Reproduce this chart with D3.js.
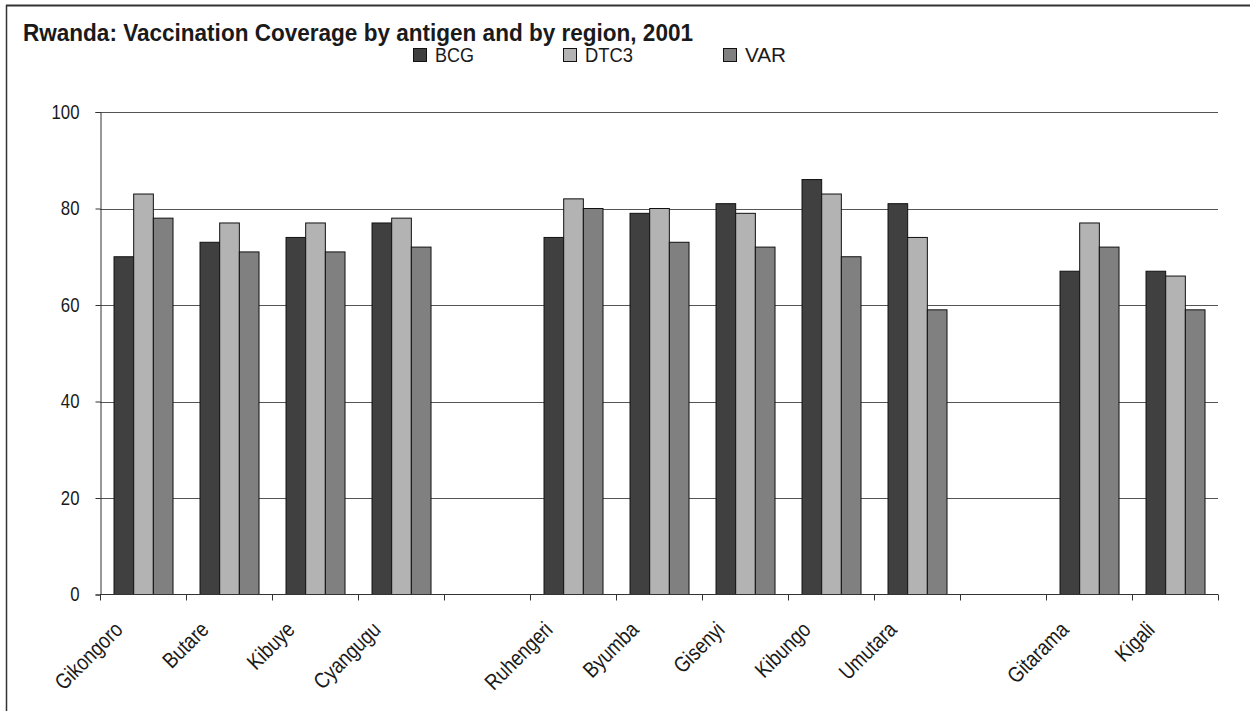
<!DOCTYPE html>
<html>
<head>
<meta charset="utf-8">
<script src="https://cdn.jsdelivr.net/npm/d3@7"></script>
<style>
  html, body { margin: 0; padding: 0; background: #fff; }
  svg { display: block; }
  text { font-family: "Liberation Sans", Arial, sans-serif; fill: #1a1a1a; }
</style>
</head>
<body>
<svg id="chart" width="1250" height="711"></svg>
<script>
// Regions in display order; empty strings are spacer slots between groups
const regions = ["Gikongoro", "Butare", "Kibuye", "Cyangugu", "",
                 "Ruhengeri", "Byumba", "Gisenyi", "Kibungo", "Umutara", "",
                 "Gitarama", "Kigali"];
const series = ["BCG", "DTC3", "VAR"];
const bcg  = [70, 73, 74, 77, null, 74, 79, 81, 86, 81, null, 67, 67];
const dtc3 = [83, 77, 77, 78, null, 82, 80, 79, 83, 74, null, 77, 66];
const varv = [78, 71, 71, 72, null, 80, 73, 72, 70, 59, null, 72, 59];
const yTicks = [0, 20, 40, 60, 80, 100];
const colors = ["#404040", "#b3b3b3", "#808080"];

const seriesValues = [bcg, dtc3, varv];
const svg = d3.select("#chart");
const NARROW = 0.84; // horizontal squeeze giving a narrow sans face

const plot = { left: 100, right: 1218, top: 112, bottom: 594.5 };

const x0 = d3.scaleBand()
  .domain(d3.range(regions.length))
  .range([plot.left, plot.right])
  .padding(0);
const bw = x0.bandwidth();
const x1 = d3.scaleBand()
  .domain(series)
  .range([bw * 0.163, bw * 0.849])
  .padding(0);
const y = d3.scaleLinear().domain([0, 100]).range([plot.bottom, plot.top]);

// Outer frame (top and left edges)
svg.append("line").attr("x1", 6).attr("x2", 1250).attr("y1", 5.5).attr("y2", 5.5)
  .attr("stroke", "#333").attr("stroke-width", 2);
svg.append("line").attr("x1", 6.5).attr("x2", 6.5).attr("y1", 5).attr("y2", 711)
  .attr("stroke", "#333").attr("stroke-width", 1.5);

// Title
svg.append("text")
  .attr("x", 23).attr("y", 41)
  .attr("font-size", 24).attr("font-weight", "bold")
  .attr("textLength", 670).attr("lengthAdjust", "spacingAndGlyphs")
  .text("Rwanda: Vaccination Coverage by antigen and by region, 2001");

// Legend
const legendX = [413, 563, 723];
const legendW = [39, 48, 41];
const lg = svg.append("g");
series.forEach((s, i) => {
  lg.append("rect").attr("x", legendX[i] + 0.5).attr("y", 48.5)
    .attr("width", 13).attr("height", 13)
    .attr("fill", colors[i]).attr("stroke", "#111").attr("stroke-width", 1);
  lg.append("text").attr("x", legendX[i] + 22).attr("y", 62)
    .attr("font-size", 20)
    .attr("textLength", legendW[i]).attr("lengthAdjust", "spacingAndGlyphs")
    .text(s);
});

// Horizontal gridlines
svg.append("g")
  .selectAll("line")
  .data(yTicks.filter(d => d > 0))
  .join("line")
  .attr("x1", plot.left).attr("x2", plot.right)
  .attr("y1", d => Math.round(y(d)) + 0.5).attr("y2", d => Math.round(y(d)) + 0.5)
  .attr("stroke", "#555").attr("stroke-width", 1);

// Bars
const groups = svg.append("g")
  .selectAll("g")
  .data(regions.map((r, i) => i))
  .join("g")
  .attr("transform", i => `translate(${x0(i)},0)`);

groups.selectAll("rect")
  .data(i => series.map((s, k) => ({ s, k, v: seriesValues[k][i] })).filter(d => d.v != null))
  .join("rect")
  .attr("x", d => x1(d.s))
  .attr("y", d => y(d.v))
  .attr("width", x1.bandwidth())
  .attr("height", d => y(0) - y(d.v))
  .attr("fill", d => colors[d.k])
  .attr("stroke", "#111")
  .attr("stroke-width", 1);

// Y axis
const yAxis = d3.axisLeft(y).tickValues(yTicks).tickSize(5).tickPadding(0).tickFormat(d3.format("d"));
const gy = svg.append("g").attr("transform", `translate(${plot.left + 0.5},0)`).call(yAxis);
gy.select(".domain").attr("stroke", "#333");
gy.selectAll(".tick line").attr("stroke", "#333");
gy.selectAll(".tick text")
  .attr("x", null)
  .attr("font-size", 20).attr("fill", "#1a1a1a")
  .attr("font-family", "Liberation Sans, Arial, sans-serif")
  .attr("transform", `translate(-21,0) scale(${NARROW},1)`);

// X axis line and tick marks at band boundaries
const boundaries = d3.range(regions.length + 1).map(i => plot.left + i * bw);
svg.append("line").attr("x1", plot.left).attr("x2", plot.right)
  .attr("y1", plot.bottom).attr("y2", plot.bottom).attr("stroke", "#333");
svg.append("g").selectAll("line").data(boundaries).join("line")
  .attr("x1", d => Math.round(d) + 0.5).attr("x2", d => Math.round(d) + 0.5)
  .attr("y1", plot.bottom).attr("y2", plot.bottom + 6)
  .attr("stroke", "#333");

// Rotated category labels
svg.append("g").selectAll("text")
  .data(regions.map((r, i) => ({ r, i })).filter(d => d.r))
  .join("text")
  .attr("font-size", 22)
  .attr("text-anchor", "end")
  .attr("transform", d => `translate(${x0(d.i) + bw / 2 - 19},631) rotate(-45) scale(${NARROW},1)`)
  .text(d => d.r);
</script>
</body>
</html>
